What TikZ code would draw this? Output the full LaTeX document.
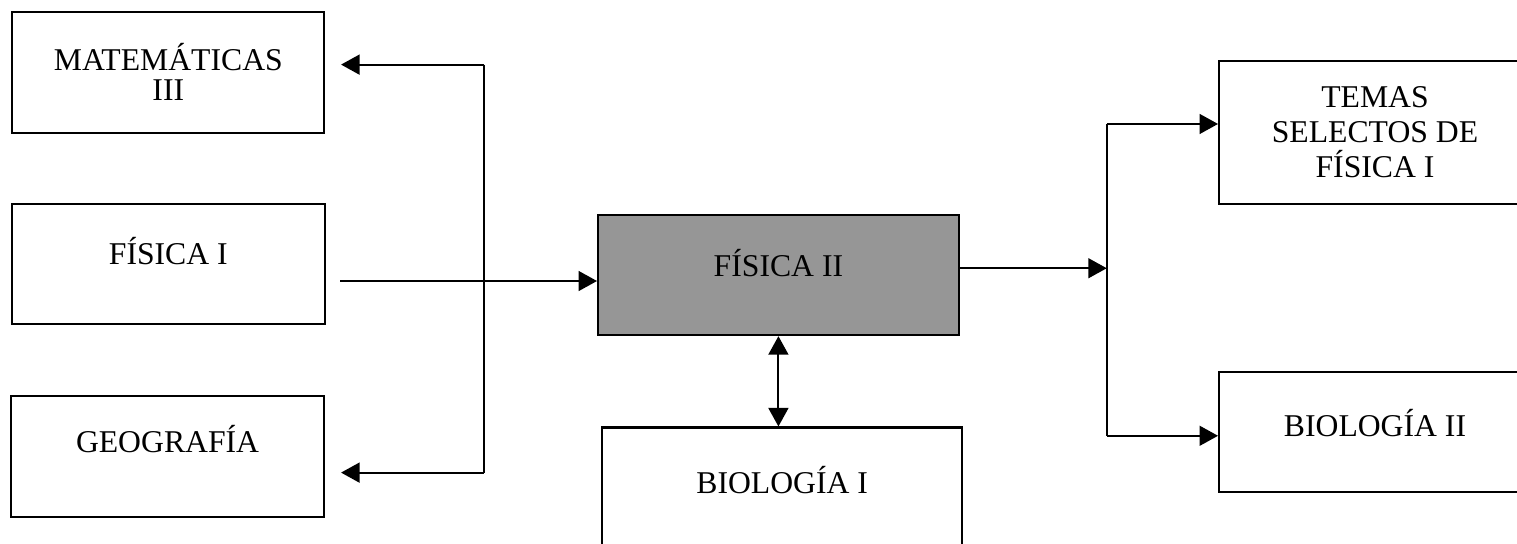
\documentclass[tikz,border=0pt]{standalone}
\usepackage{fontspec}
\setmainfont{Liberation Serif}
\usetikzlibrary{arrows.meta}
\definecolor{boxgray}{RGB}{150,150,150}

\begin{document}
\begin{tikzpicture}[font=\fontsize{12}{13.4}\selectfont, line width=0.8pt,
    >={Triangle[length=7pt,width=7.5pt]},
    subject/.style={draw, rectangle, inner sep=2pt},
    lift/.style={text height=8pt, text depth=#1}]
    \useasboundingbox (0,0) rectangle (20.19,7.24);

    % antecedentes
    \node[subject, minimum width=4.15cm, minimum height=1.61cm, align=center] at (2.24, 6.28) (Mat3) {MATEMÁTICAS\\[-2pt]III};
    \node[subject, lift=7.6pt, minimum width=4.17cm, minimum height=1.60cm] at (2.24, 3.73) (Fis1) {FÍSICA I};
    \node[subject, lift=11pt, minimum width=4.17cm, minimum height=1.61cm] at (2.23, 1.16) (Geo) {GEOGRAFÍA};

    \node[subject, lift=6.5pt, fill=boxgray, minimum width=4.80cm, minimum height=1.60cm] at (10.36, 3.58) (Fis2) {FÍSICA II};
    \node[subject, lift=3.9pt, minimum width=4.79cm, minimum height=1.60cm] at (10.41, 0.75) (Bio1) {BIOLOGÍA I};

    % consecuentes
    \node[subject, align=center, minimum width=4.15cm, minimum height=1.90cm] at (18.30, 5.48) (Temas) {TEMAS\\SELECTOS DE\\FÍSICA I};
    \node[subject, lift=4.6pt, minimum width=4.15cm, minimum height=1.60cm] at (18.30, 1.49) (Bio2) {BIOLOGÍA II};

    \coordinate (ltop) at (6.44, 6.38);
    \coordinate (lbot) at (6.44, 0.95);
    \coordinate (lmid) at (6.44, 3.50);
    \coordinate (rtop) at (14.73, 5.59);
    \coordinate (rmid) at (14.73, 3.67);
    \coordinate (rbot) at (14.73, 1.44);

    \draw (ltop) -- (lbot);
    \draw[->, shorten >=0.21cm] (ltop) -- (Mat3.east |- ltop);
    \draw[->, shorten >=0.21cm] (lbot) -- (Geo.east |- lbot);
    \draw[->, shorten <=0.19cm] (Fis1.east |- lmid) -- (Fis2.west |- lmid);

    \draw[<->] (Fis2.south) -- (Fis2.south |- Bio1.north);

    \draw[->] (Fis2.east |- rmid) -- (rmid);
    \draw (rtop) -- (rbot);
    \draw[->] (rtop) -- (Temas.west |- rtop);
    \draw[->] (rbot) -- (Bio2.west |- rbot);
\end{tikzpicture}
\end{document}
